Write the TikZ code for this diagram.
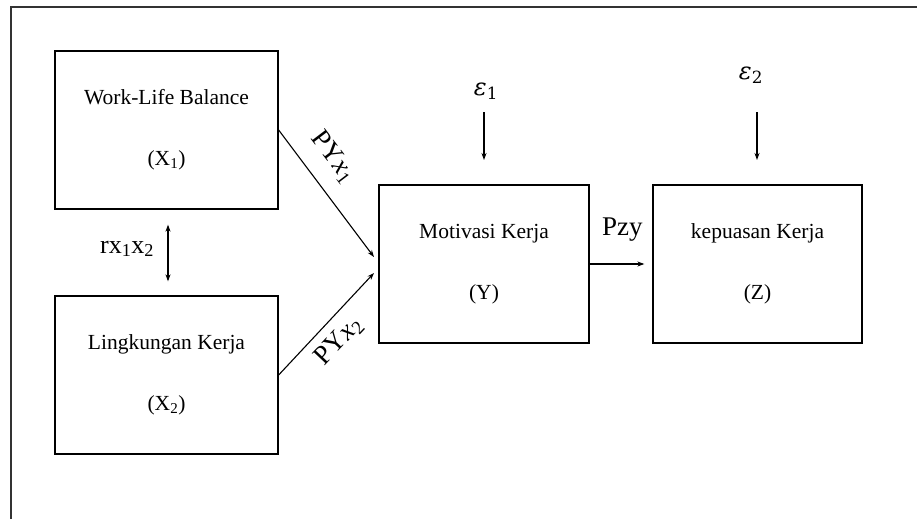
\documentclass[tikz,border=0pt]{standalone}
\usepackage{fontspec}
\setmainfont{Liberation Serif}
\newfontfamily\symfont{DejaVu Serif}
\usetikzlibrary{arrows.meta,calc}
\begin{document}
\begin{tikzpicture}[x=1pt,y=-1pt,
  varbox/.style={draw,line width=1.3pt,minimum width=223pt,minimum height=158pt,
    inner sep=0pt,align=center,font=\fontsize{21.5}{25}\selectfont},
  arr/.style={line width=1.1pt,-{Stealth[length=7pt,width=5pt]}},
  biarr/.style={line width=1.1pt,{Stealth[length=7pt,width=5pt]}-{Stealth[length=7pt,width=5pt]}},
  lab/.style={inner sep=0pt,font=\fontsize{27}{31}\selectfont},
  eps/.style={inner sep=0pt,font=\fontsize{24}{28}\selectfont\symfont}]
\useasboundingbox (0,0) rectangle (917,519);
\draw[line width=1.6pt,draw=black!80] (11,519) -- (11,7) -- (917,7);
\node[varbox] (x1) at (166.5,130) {Work-Life Balance\\[36pt](X\textsubscript{1})};
\node[varbox] (x2) at (166.5,375) {Lingkungan Kerja\\[36pt](X\textsubscript{2})};
\node[varbox,minimum width=210pt] (y) at (484,264) {Motivasi Kerja\\[36pt](Y)};
\node[varbox,minimum width=209pt] (z) at (757.5,264) {kepuasan Kerja\\[36pt](Z)};
\node[eps] (e1) at (486,91) {\itshape ε\upshape\textsubscript{1}};
\node[eps] (e2) at (751,75) {\itshape ε\upshape\textsubscript{2}};
\coordinate (e1end) at (484,160);
\coordinate (e2end) at (757,160);
\coordinate (e1start) at (484,112);
\coordinate (e2start) at (757,112);
\draw[arr] (e1start) -- (e1end);
\draw[arr] (e2start) -- (e2end);
\coordinate (yin1) at (374,257);
\coordinate (yin2) at (374,273);
\draw[arr] (x1.east) -- (yin1);
\draw[arr] (x2.east) -- (yin2);
\draw[arr,shorten >=8pt] (y.east) -- (z.west);
\draw[biarr,shorten <=15pt,shorten >=14pt] ($(x1.south)+(1.5,0)$) -- ($(x2.north)+(1.5,0)$);
\node[lab,anchor=base west,font=\fontsize{26}{30}\selectfont] (r) at (100,253) {rx\textsubscript{1}x\textsubscript{2}};
\node[lab,anchor=base west] (pzy) at (602,235) {Pzy};
\node[lab,rotate=-52.7] (p1) at (333,157) {PY\textit{x}\textsubscript{1}};
\node[lab,rotate=46.7] (p2) at (339,341) {PY\textit{x}\textsubscript{2}};
\end{tikzpicture}
\end{document}
